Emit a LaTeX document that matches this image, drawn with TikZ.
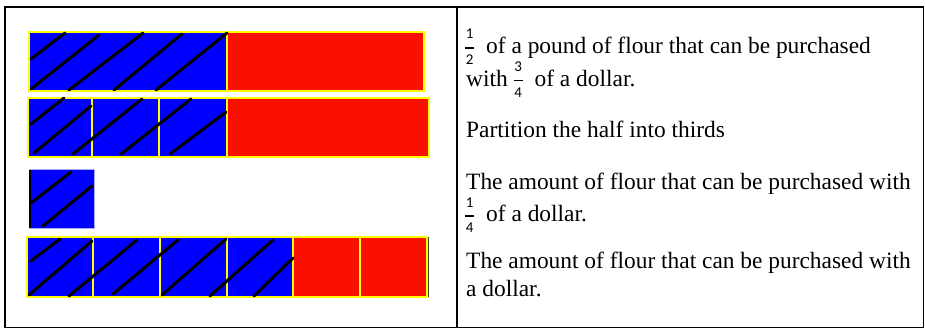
\documentclass[tikz,border=0pt]{standalone}
\usepackage{fontspec}
\setmainfont{Liberation Serif}
\newfontfamily\digfont{Carlito}
\definecolor{cblue}{RGB}{0,0,255}
\definecolor{cred}{RGB}{250,16,0}
\definecolor{cyel}{RGB}{255,255,0}
\definecolor{clav}{RGB}{170,170,255}
\definecolor{colive}{RGB}{70,70,30}
\newcommand\fr[2]{\hbox to 9pt{%
  \rlap{\raise 14.5pt\hbox to 9pt{\hss\fontsize{15}{15}\digfont #1\hss}}%
  \rlap{\raise 4.8pt\hbox{\vrule width 9pt height 1.3pt depth 0pt}}%
  \rlap{\lower 11pt\hbox to 9pt{\hss\fontsize{15}{15}\digfont #2\hss}}%
  \hss}}
\tikzset{
  bcell/.style={fill=cblue, draw=cyel, line width=1.25pt},
  rcell/.style={fill=cred, draw=cyel, line width=1.25pt},
  hatch/.style={line width=3pt, line cap=round, black},
  frame/.style={line width=1.1pt, black},
  txt/.style={anchor=base west, inner sep=0pt, font=\fontsize{23.4}{28}\selectfont}
}
\begin{document}
\begin{tikzpicture}[x=1pt,y=-1pt]
\useasboundingbox (0,0) rectangle (925,329);
% table frame
\draw[frame] (5,7) rectangle (923.5,327.5);
\draw[frame] (457,7) -- (457,327.5);
% row 1
\draw[bcell] (29,32) rectangle (227,91);
\draw[rcell] (227,32) rectangle (424,91);
\draw[hatch] (31,59) -- (65,33);
\draw[hatch] (31,89) -- (99,35);
\draw[hatch] (69,90) -- (143,33);
\draw[hatch] (114,90) -- (182,34);
\draw[hatch] (156,90) -- (227,33);
% row 2
\draw[bcell] (28,98) rectangle (92,157);
\draw[bcell] (92,98) rectangle (159,157);
\draw[bcell] (159,98) rectangle (227,157);
\draw[rcell] (227,98) rectangle (429,157);
\draw[hatch] (31,124) -- (64,98);
\draw[hatch] (34,153) -- (91,106);
\draw[hatch] (73,154) -- (142,99);
\draw[hatch] (121,154) -- (191,99);
\draw[hatch] (170,154) -- (226,112);
% row 3
\draw[fill=cblue, draw=clav, line width=1pt] (29,169) rectangle (94,228);
\draw[line width=1.8pt, black] (30.2,169.5) -- (30.2,227.5);
\draw[hatch] (31,203) -- (71,172);
\draw[hatch] (43,226) -- (92,186);
% row 4
\draw[bcell] (27,237) rectangle (93,297);
\draw[bcell] (93,237) rectangle (160,297);
\draw[bcell] (160,237) rectangle (227,297);
\draw[bcell] (227,237) rectangle (293,297);
\draw[rcell] (293,237) rectangle (360,297);
\draw[rcell] (360,237) rectangle (427,297);
\draw[line width=1.8pt, colive] (428.5,237) -- (428.5,297);
\draw[hatch] (31,261) -- (60,239);
\draw[hatch] (29,295) -- (92,241);
\draw[hatch] (69,296) -- (137,240);
\draw[hatch] (113,294) -- (178,240);
\draw[hatch] (162,295) -- (226,239);
\draw[hatch] (210,296) -- (273,240);
\draw[hatch] (254,296) -- (293,258);
% texts
\node[txt] (t1) at (465,53.5) {\fr{1}{2}\hspace{12pt}of a pound of flour that can be purchased};
\node[txt] (t2) at (466,86) {with \fr{3}{4}\hspace{12pt}of a dollar.};
\node[txt] (t3) at (466,137.5) {Partition the half into thirds};
\node[txt] (t4) at (466,189.5) {The amount of flour that can be purchased with};
\node[txt] (t5) at (465,221.5) {\fr{1}{4}\hspace{12pt}of a dollar.};
\node[txt] (t6) at (466,268) {The amount of flour that can be purchased with};
\node[txt] (t7) at (466,296) {a dollar.};
\end{tikzpicture}
\end{document}
